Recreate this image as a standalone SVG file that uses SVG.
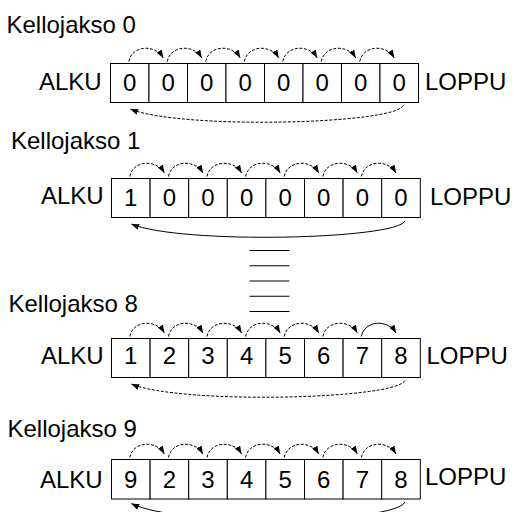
<svg xmlns="http://www.w3.org/2000/svg" width="514" height="512" viewBox="0 0 514 512">
  <style>
    text { font-family: "Liberation Sans", Arial, sans-serif; font-size: 24px; fill: #000; }
    .digit { text-anchor: middle; }
    .cell { fill: #fff; stroke: #000; stroke-width: 1; }
    .arc { fill: none; stroke: #000; stroke-width: 1; marker-end: url(#head); }
    .dash { stroke-dasharray: 3 1.6; }
    .sep { stroke: #000; stroke-width: 1; }
  </style>
  <defs>
    <marker id="head" markerUnits="userSpaceOnUse" viewBox="0 0 8 6" markerWidth="8" markerHeight="6" refX="8" refY="3" orient="auto">
      <path d="M0,0 L8,3 L0,6 z" fill="#000"/>
    </marker>
  </defs>

  <!-- cycle 0 -->
  <g id="cycle0">
    <text x="6.5" y="33">Kellojakso 0</text>
    <text x="39" y="90">ALKU</text>
    <text x="425" y="90">LOPPU</text>
    <g id="c0-0"><rect class="cell" x="110.5" y="63.5" width="38.5" height="39"/><text class="digit" x="129.75" y="91">0</text></g>
    <g id="c0-1"><rect class="cell" x="149" y="63.5" width="38.5" height="39"/><text class="digit" x="168.25" y="91">0</text></g>
    <g id="c0-2"><rect class="cell" x="187.5" y="63.5" width="38.5" height="39"/><text class="digit" x="206.75" y="91">0</text></g>
    <g id="c0-3"><rect class="cell" x="226" y="63.5" width="38.5" height="39"/><text class="digit" x="245.25" y="91">0</text></g>
    <g id="c0-4"><rect class="cell" x="264.5" y="63.5" width="38.5" height="39"/><text class="digit" x="283.75" y="91">0</text></g>
    <g id="c0-5"><rect class="cell" x="303" y="63.5" width="38.5" height="39"/><text class="digit" x="322.25" y="91">0</text></g>
    <g id="c0-6"><rect class="cell" x="341.5" y="63.5" width="38.5" height="39"/><text class="digit" x="360.75" y="91">0</text></g>
    <g id="c0-7"><rect class="cell" x="380" y="63.5" width="38.5" height="39"/><text class="digit" x="399.25" y="91">0</text></g>
  </g>

  <!-- cycle 1 -->
  <g id="cycle1">
    <text x="11" y="148.5">Kellojakso 1</text>
    <text x="41" y="204">ALKU</text>
    <text x="430" y="205">LOPPU</text>
    <g id="c1-0"><rect class="cell" x="111.5" y="178.5" width="38.6" height="39"/><text class="digit" x="130.8" y="206">1</text></g>
    <g id="c1-1"><rect class="cell" x="150.1" y="178.5" width="38.6" height="39"/><text class="digit" x="169.4" y="206">0</text></g>
    <g id="c1-2"><rect class="cell" x="188.7" y="178.5" width="38.6" height="39"/><text class="digit" x="208" y="206">0</text></g>
    <g id="c1-3"><rect class="cell" x="227.3" y="178.5" width="38.6" height="39"/><text class="digit" x="246.6" y="206">0</text></g>
    <g id="c1-4"><rect class="cell" x="265.9" y="178.5" width="38.6" height="39"/><text class="digit" x="285.2" y="206">0</text></g>
    <g id="c1-5"><rect class="cell" x="304.5" y="178.5" width="38.6" height="39"/><text class="digit" x="323.8" y="206">0</text></g>
    <g id="c1-6"><rect class="cell" x="343.1" y="178.5" width="38.6" height="39"/><text class="digit" x="362.4" y="206">0</text></g>
    <g id="c1-7"><rect class="cell" x="381.7" y="178.5" width="38.6" height="39"/><text class="digit" x="401" y="206">0</text></g>
  </g>

  <!-- elided cycles -->
  <g id="ellipsis">
    <line class="sep" x1="249.5" y1="250.5" x2="289.5" y2="250.5"/>
    <line class="sep" x1="249.5" y1="265.75" x2="289.5" y2="265.75"/>
    <line class="sep" x1="249.5" y1="281" x2="289.5" y2="281"/>
    <line class="sep" x1="249.5" y1="296.25" x2="289.5" y2="296.25"/>
    <line class="sep" x1="249.5" y1="311.5" x2="289.5" y2="311.5"/>
  </g>

  <!-- cycle 8 -->
  <g id="cycle8">
    <text x="8.5" y="311.5">Kellojakso 8</text>
    <text x="41" y="363.5">ALKU</text>
    <text x="426.5" y="363.5">LOPPU</text>
    <g id="c8-0"><rect class="cell" x="111.5" y="338.5" width="38.6" height="39"/><text class="digit" x="130.8" y="363.5">1</text></g>
    <g id="c8-1"><rect class="cell" x="150.1" y="338.5" width="38.6" height="39"/><text class="digit" x="169.4" y="363.5">2</text></g>
    <g id="c8-2"><rect class="cell" x="188.7" y="338.5" width="38.6" height="39"/><text class="digit" x="208" y="363.5">3</text></g>
    <g id="c8-3"><rect class="cell" x="227.3" y="338.5" width="38.6" height="39"/><text class="digit" x="246.6" y="363.5">4</text></g>
    <g id="c8-4"><rect class="cell" x="265.9" y="338.5" width="38.6" height="39"/><text class="digit" x="285.2" y="363.5">5</text></g>
    <g id="c8-5"><rect class="cell" x="304.5" y="338.5" width="38.6" height="39"/><text class="digit" x="323.8" y="363.5">6</text></g>
    <g id="c8-6"><rect class="cell" x="343.1" y="338.5" width="38.6" height="39"/><text class="digit" x="362.4" y="363.5">7</text></g>
    <g id="c8-7"><rect class="cell" x="381.7" y="338.5" width="38.6" height="39"/><text class="digit" x="401" y="363.5">8</text></g>
  </g>

  <!-- cycle 9 -->
  <g id="cycle9">
    <text x="7.5" y="436.5">Kellojakso 9</text>
    <text x="40" y="488">ALKU</text>
    <text x="425" y="485">LOPPU</text>
    <g id="c9-0"><rect class="cell" x="111.5" y="459.5" width="38.6" height="39.5"/><text class="digit" x="130.8" y="487.5">9</text></g>
    <g id="c9-1"><rect class="cell" x="150.1" y="459.5" width="38.6" height="39.5"/><text class="digit" x="169.4" y="487.5">2</text></g>
    <g id="c9-2"><rect class="cell" x="188.7" y="459.5" width="38.6" height="39.5"/><text class="digit" x="208" y="487.5">3</text></g>
    <g id="c9-3"><rect class="cell" x="227.3" y="459.5" width="38.6" height="39.5"/><text class="digit" x="246.6" y="487.5">4</text></g>
    <g id="c9-4"><rect class="cell" x="265.9" y="459.5" width="38.6" height="39.5"/><text class="digit" x="285.2" y="487.5">5</text></g>
    <g id="c9-5"><rect class="cell" x="304.5" y="459.5" width="38.6" height="39.5"/><text class="digit" x="323.8" y="487.5">6</text></g>
    <g id="c9-6"><rect class="cell" x="343.1" y="459.5" width="38.6" height="39.5"/><text class="digit" x="362.4" y="487.5">7</text></g>
    <g id="c9-7"><rect class="cell" x="381.7" y="459.5" width="38.6" height="39.5"/><text class="digit" x="401" y="487.5">8</text></g>
  </g>

  <!-- shift arrows: each cell into the next, and the wrap-around from last to first -->
  <g id="connectors">
    <!-- cycle 0 -->
    <path class="arc dash" d="M128.75,61.5 c3,-16 26,-18 34.5,-3.5"/>
    <path class="arc dash" d="M167.25,61.5 c3,-16 26,-18 34.5,-3.5"/>
    <path class="arc dash" d="M205.75,61.5 c3,-16 26,-18 34.5,-3.5"/>
    <path class="arc dash" d="M244.25,61.5 c3,-16 26,-18 34.5,-3.5"/>
    <path class="arc dash" d="M282.75,61.5 c3,-16 26,-18 34.5,-3.5"/>
    <path class="arc dash" d="M321.25,61.5 c3,-16 26,-18 34.5,-3.5"/>
    <path class="arc dash" d="M359.75,61.5 c3,-16 26,-18 34.5,-3.5"/>
    <path class="arc dash" d="M403.25,105.5 C394.25,124.5 179.75,129.5 130.25,109"/>

    <!-- cycle 1 -->
    <path class="arc dash" d="M129.8,176.5 c3,-16 26,-18 34.6,-3.5"/>
    <path class="arc dash" d="M168.4,176.5 c3,-16 26,-18 34.6,-3.5"/>
    <path class="arc dash" d="M207,176.5 c3,-16 26,-18 34.6,-3.5"/>
    <path class="arc dash" d="M245.6,176.5 c3,-16 26,-18 34.6,-3.5"/>
    <path class="arc dash" d="M284.2,176.5 c3,-16 26,-18 34.6,-3.5"/>
    <path class="arc dash" d="M322.8,176.5 c3,-16 26,-18 34.6,-3.5"/>
    <path class="arc dash" d="M361.4,176.5 c3,-16 26,-18 34.6,-3.5"/>
    <path class="arc" d="M405,221 C396,239.5 180.8,244.5 131.3,224"/>

    <!-- cycle 8 -->
    <path class="arc dash" d="M129.8,336.5 c3,-16 26,-18 34.6,-3.5"/>
    <path class="arc dash" d="M168.4,336.5 c3,-16 26,-18 34.6,-3.5"/>
    <path class="arc dash" d="M207,336.5 c3,-16 26,-18 34.6,-3.5"/>
    <path class="arc dash" d="M245.6,336.5 c3,-16 26,-18 34.6,-3.5"/>
    <path class="arc dash" d="M284.2,336.5 c3,-16 26,-18 34.6,-3.5"/>
    <path class="arc dash" d="M322.8,336.5 c3,-16 26,-18 34.6,-3.5"/>
    <path class="arc" d="M361.4,336.5 c3,-16 26,-18 34.6,-3.5"/>
    <path class="arc dash" d="M405,380.5 C396,399.5 180.8,404.5 131.3,384"/>

    <!-- cycle 9 -->
    <path class="arc dash" d="M129.8,457.5 c3,-16 26,-18 34.6,-3.5"/>
    <path class="arc dash" d="M168.4,457.5 c3,-16 26,-18 34.6,-3.5"/>
    <path class="arc dash" d="M207,457.5 c3,-16 26,-18 34.6,-3.5"/>
    <path class="arc dash" d="M245.6,457.5 c3,-16 26,-18 34.6,-3.5"/>
    <path class="arc dash" d="M284.2,457.5 c3,-16 26,-18 34.6,-3.5"/>
    <path class="arc dash" d="M322.8,457.5 c3,-16 26,-18 34.6,-3.5"/>
    <path class="arc dash" d="M361.4,457.5 c3,-16 26,-18 34.6,-3.5"/>
    <path class="arc" d="M405,502 C396,523 180.8,528 131.3,503.5"/>
  </g>
</svg>
